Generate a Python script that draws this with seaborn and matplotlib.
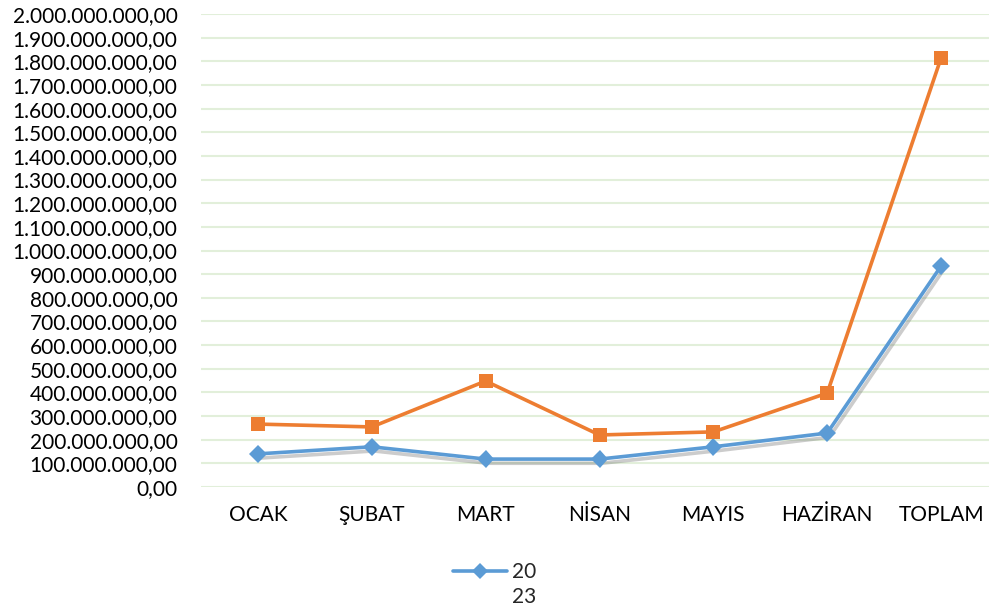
import matplotlib
matplotlib.use("Agg")
import matplotlib.pyplot as plt
import matplotlib.patheffects as pe
from matplotlib.ticker import FuncFormatter, MultipleLocator
from matplotlib.lines import Line2D
import seaborn as sns
import pandas as pd

# Monthly values (TL)
months = ["OCAK", "ŞUBAT", "MART", "NİSAN", "MAYIS", "HAZİRAN", "TOPLAM"]
series_blue = [140e6, 170e6, 118e6, 118e6, 170e6, 228e6, 934e6]
series_orange = [266e6, 254e6, 448e6, 220e6, 233e6, 397e6, 1814e6]
legend_label = "20"
legend_label_2 = "23"

BLUE = "#5B9BD5"
ORANGE = "#ED7D31"
GRID = "#E2EFDA"

sns.set_style("white")
plt.rcParams["font.family"] = ["Lato", "DejaVu Sans"]

df = pd.DataFrame({"ay": months, "blue": series_blue, "orange": series_orange})
df["x"] = range(len(months))

fig = plt.figure(figsize=(9.89, 6.10), dpi=100)
ax = fig.add_axes([201 / 989, 1 - 487 / 610, 797 / 989, (487 - 14) / 610])

sns.lineplot(data=df, x="x", y="blue", ax=ax, color=BLUE, linewidth=2.6,
             marker="D", markersize=9, markeredgewidth=0,
             path_effects=[pe.SimpleLineShadow(offset=(1.5, -3), shadow_color="gray", alpha=0.4),
                           pe.Normal()])
sns.lineplot(data=df, x="x", y="orange", ax=ax, color=ORANGE, linewidth=2.6,
             marker="s", markersize=10, markeredgewidth=0)


def tr_fmt(v, pos):
    s = f"{v:,.2f}"
    return s.replace(",", "X").replace(".", ",").replace("X", ".")


ax.set_ylim(0, 2_000_000_000)
ax.yaxis.set_major_locator(MultipleLocator(100_000_000))
ax.yaxis.set_major_formatter(FuncFormatter(tr_fmt))
ax.set_xlim(-0.5, len(months) - 0.5)
ax.set_xticks(df["x"])
ax.set_xticklabels(months)
ax.grid(axis="y", color=GRID, linewidth=1.5)
ax.set_axisbelow(True)
for s in ax.spines.values():
    s.set_visible(False)
ax.tick_params(axis="y", length=0, pad=17, labelsize=15, colors="black")
ax.tick_params(axis="x", length=0, pad=13, labelsize=15, colors="black")
ax.set_xlabel("")
ax.set_ylabel("")

handle = Line2D([], [], color=BLUE, linewidth=2.6, marker="D", markersize=8, markeredgewidth=0)
fig.legend([handle], [legend_label], loc="center left",
           bbox_to_anchor=(453 / 989, 1 - 572 / 610), frameon=False,
           borderpad=0, borderaxespad=0,
           fontsize=15, handlelength=2.6, handletextpad=0.25)
fig.text(512 / 989, 1 - 597 / 610, legend_label_2, fontsize=15, va="center", ha="left")

fig.savefig("out.png", dpi=100)
